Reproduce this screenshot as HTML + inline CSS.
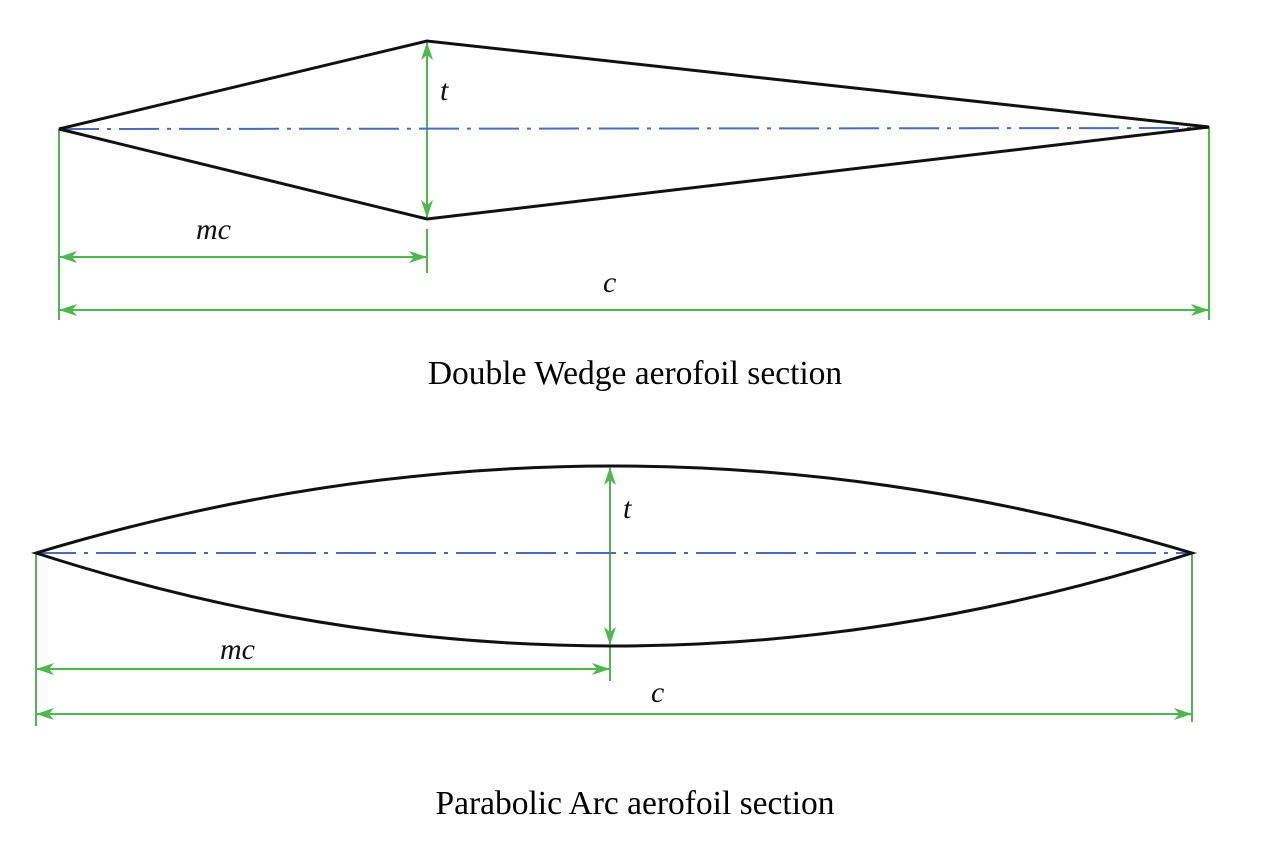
<!DOCTYPE html>
<html><head><meta charset="utf-8"><style>
html,body{margin:0;padding:0;background:#fff;}
svg{display:block;}
.lbl{font-family:"Liberation Serif",serif;font-style:italic;font-size:30px;fill:#111;}
.cap{font-family:"Liberation Serif",serif;font-size:33.5px;fill:#000;}
</style></head><body>
<svg width="1265" height="855" viewBox="0 0 1265 855" xmlns="http://www.w3.org/2000/svg">
<defs>
<marker id="ah" markerWidth="18" markerHeight="12" refX="17" refY="6" orient="auto-start-reverse" markerUnits="userSpaceOnUse">
<path d="M0,0 L18,6 L0,12 L5,6 Z" fill="#4db84d"/>
</marker>
</defs>
<g stroke="#4db84d" stroke-width="2" fill="none">
<line x1="59" y1="129" x2="59" y2="320"/>
<line x1="1209" y1="127" x2="1209" y2="320"/>
<line x1="427" y1="229" x2="427" y2="273"/>
<line x1="60" y1="257" x2="426" y2="257" marker-start="url(#ah)" marker-end="url(#ah)"/>
<line x1="60" y1="310" x2="1208" y2="310" marker-start="url(#ah)" marker-end="url(#ah)"/>
<line x1="427" y1="43" x2="427" y2="217" marker-start="url(#ah)" marker-end="url(#ah)"/>
<line x1="36" y1="553" x2="36" y2="726"/>
<line x1="1192" y1="553" x2="1192" y2="722"/>
<line x1="610" y1="647" x2="610" y2="681"/>
<line x1="37" y1="669" x2="609" y2="669" marker-start="url(#ah)" marker-end="url(#ah)"/>
<line x1="37" y1="714" x2="1191" y2="714" marker-start="url(#ah)" marker-end="url(#ah)"/>
<line x1="610" y1="468" x2="610" y2="644" marker-start="url(#ah)" marker-end="url(#ah)"/>
</g>
<g stroke="#4a6db5" stroke-width="2" stroke-dasharray="40 8 4 8" fill="none">
<line x1="59" y1="129" x2="1209" y2="128"/>
<line x1="36" y1="553" x2="1192" y2="553"/>
</g>
<g stroke="#111" stroke-width="3" fill="none" stroke-linejoin="miter">
<path d="M59,129 L427,41 L1209,127 L427,219 Z"/>
<path d="M36,553 Q612,379 1192,553 Q612,739 36,553 Z"/>
</g>
<text class="lbl" x="440" y="100">t</text>
<text class="lbl" x="196" y="239">mc</text>
<text class="lbl" x="603" y="292">c</text>
<text class="cap" x="635" y="384" text-anchor="middle">Double Wedge aerofoil section</text>
<text class="lbl" x="623" y="518">t</text>
<text class="lbl" x="220" y="659">mc</text>
<text class="lbl" x="651" y="702">c</text>
<text class="cap" x="635" y="814" text-anchor="middle">Parabolic Arc aerofoil section</text>
</svg>
</body></html>
